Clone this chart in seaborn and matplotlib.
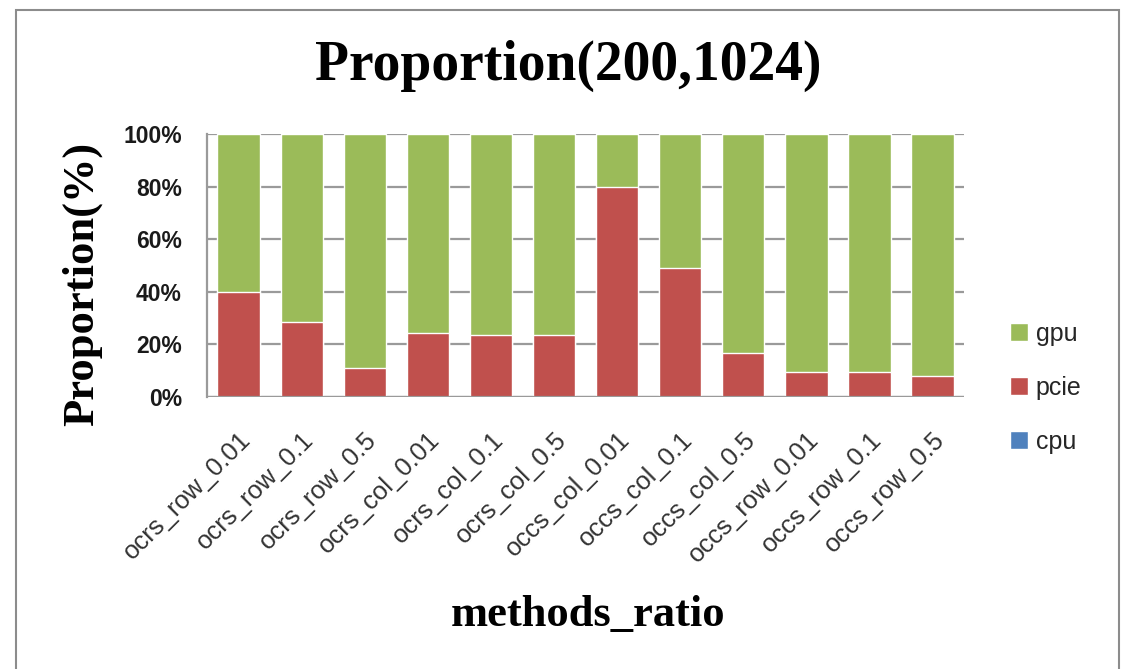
import matplotlib
matplotlib.use("Agg")
import matplotlib.pyplot as plt
import seaborn as sns
import pandas as pd
import numpy as np
from matplotlib.patches import Rectangle, Patch
from matplotlib.ticker import FuncFormatter, FixedLocator

categories = ["ocrs_row_0.01", "ocrs_row_0.1", "ocrs_row_0.5", "ocrs_col_0.01",
              "ocrs_col_0.1", "ocrs_col_0.5", "occs_col_0.01", "occs_col_0.1",
              "occs_col_0.5", "occs_row_0.01", "occs_row_0.1", "occs_row_0.5"]
cpu = [0.1, 0.1, 0.1, 0.1, 0.1, 0.1, 0.1, 0.1, 0.1, 0.1, 0.1, 0.1]
pcie = [40.0, 28.3, 11.1, 24.4, 23.6, 23.6, 79.9, 49.1, 16.5, 9.5, 9.5, 7.7]
gpu = [100 - p - c for p, c in zip(pcie, cpu)]
ytick_values = [0, 20, 40, 60, 80, 100]

GREEN = "#9BBB59"
RED = "#C0504D"
BLUE = "#4F81BD"
GRID = "#9a9a9a"

sns.set_theme(style="white")
plt.rcParams["font.family"] = ["Liberation Sans", "DejaVu Sans"]

df = pd.DataFrame({"cat": categories, "cpu": cpu, "pcie": pcie, "gpu": gpu})
df["lvl_cpu"] = df["cpu"]
df["lvl_pcie"] = df["cpu"] + df["pcie"]
df["lvl_gpu"] = df["cpu"] + df["pcie"] + df["gpu"]

fig = plt.figure(figsize=(11.25, 6.69), dpi=100)
ax = fig.add_axes([0.184, 0.4066, 0.673, 0.3931])

for col, color in [("lvl_gpu", GREEN), ("lvl_pcie", RED), ("lvl_cpu", BLUE)]:
    sns.barplot(data=df, x="cat", y=col, color=color, width=0.67,
                saturation=1, ax=ax, zorder=3)

ax.set_ylim(0, 100)
ax.set_xlim(-0.5, len(categories) - 0.5)
ax.set_yticks(ytick_values)
ax.yaxis.set_major_formatter(FuncFormatter(lambda v, p: f"{int(v)}%"))
ax.grid(axis="y", color=GRID, linewidth=1.6, zorder=0)
ax.set_axisbelow(True)
for s in ["top", "right", "bottom"]:
    ax.spines[s].set_visible(False)
ax.spines["left"].set_color(GRID)
ax.spines["left"].set_linewidth(1.6)
ax.axhline(0, color=GRID, linewidth=1.6, zorder=4)

ax.tick_params(axis="y", which="major", direction="out", length=8, width=1.4,
               color=GRID, labelsize=16.5, pad=10)
for lab in ax.get_yticklabels():
    lab.set_fontweight("bold")
    lab.set_color("#1a1a1a")

ax.set_xticks(range(len(categories)))
ax.set_xticklabels(categories, rotation=45, ha="right", rotation_mode="anchor",
                   fontsize=18.5, color="#333333")
ax.tick_params(axis="x", which="major", length=0, pad=22)
ax.xaxis.set_minor_locator(FixedLocator(np.arange(-0.5, len(categories), 1.0)))
ax.tick_params(axis="x", which="minor", direction="out", length=9, width=1.4,
               color=GRID)

ax.set_xlabel("")
ax.set_ylabel("")

fig.text(0.505, 0.902, "Proportion(200,1024)", ha="center", va="center",
         fontsize=40, fontweight="bold", family="Liberation Serif", color="black")
fig.text(0.073, 0.5755, "Proportion(%)", ha="center", va="center", rotation=90,
         fontsize=32, fontweight="bold", family="Liberation Serif", color="black")
fig.text(0.523, 0.080, "methods_ratio", ha="center", va="center",
         fontsize=32, fontweight="bold", family="Liberation Serif", color="black")

handles = [Patch(facecolor=GREEN, label="gpu"),
           Patch(facecolor=RED, label="pcie"),
           Patch(facecolor=BLUE, label="cpu")]
fig.legend(handles=handles, loc="center left", bbox_to_anchor=(0.898, 0.42),
           frameon=False, fontsize=18, handlelength=0.72, handleheight=0.72,
           handletextpad=0.3, labelspacing=1.2, borderpad=0, borderaxespad=0)

fig.patches.append(Rectangle((0.0145, -0.02), 0.980, 1.005,
                             transform=fig.transFigure, fill=False,
                             edgecolor="#8c8c8c", linewidth=1.5))

fig.savefig("out.png", dpi=100, facecolor="white")
